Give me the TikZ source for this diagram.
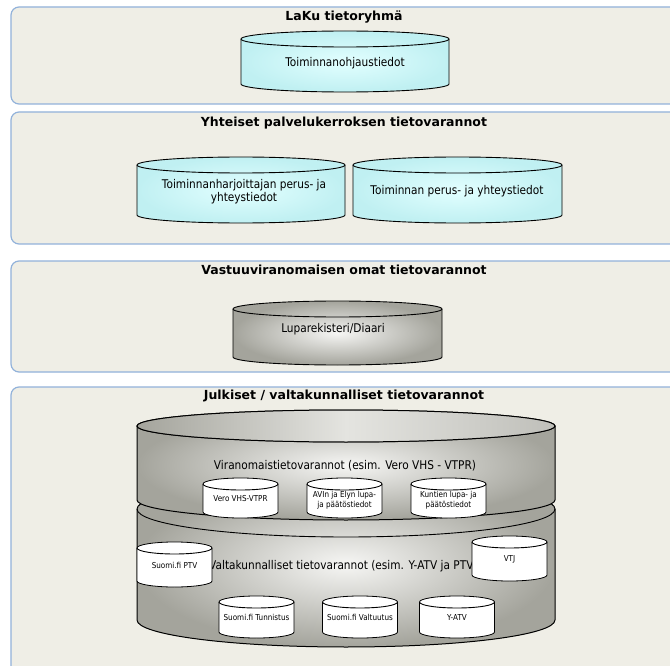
\documentclass[tikz,border=0pt]{standalone}
\usepackage{fontspec}
\setmainfont{DejaVu Sans}
\newfontfamily\lblfont{DejaVu Sans}[FakeStretch=0.88]
\definecolor{panelfill}{RGB}{239,238,230}
\definecolor{panelline}{RGB}{146,178,218}
\definecolor{cyanout}{RGB}{192,240,242}
\definecolor{cyanin}{RGB}{226,255,255}
\definecolor{greyout}{RGB}{164,164,156}
\definecolor{greyin}{RGB}{246,246,244}
\definecolor{greytop}{RGB}{228,228,224}
\tikzset{
 panel/.style={fill=panelfill, draw=panelline, line width=1.2pt, rounded corners=8pt},
 ptitle/.style={font=\bfseries\fontsize{12.5}{14}\selectfont, inner sep=0pt, anchor=base},
 lbl/.style={font=\lblfont\fontsize{12}{13}\selectfont, inner sep=0pt, align=center},
 slbl/.style={font=\lblfont\fontsize{8.2}{10}\selectfont, inner sep=0pt, align=center},
 cyancyl/.style={draw=black, line width=0.9pt, inner color=cyanin, outer color=cyanout},
 greycyl/.style={draw=black, line width=0.9pt, inner color=greyin, outer color=greyout},
 bigcyl/.style={draw=black, line width=1pt, inner color=greyin, outer color=greyout},
 topface/.style={draw=black, line width=1pt, left color=greyout, right color=greyout!70!white, middle color=greytop},
 whitecyl/.style={draw=black, line width=0.8pt, fill=white},
 cylline/.style={draw=black, line width=0.9pt},
}
% #1 cx, #2 top y, #3 bottom y, #4 rx, #5 ry top, #6 ry bottom, #7 style
\newcommand\dbcyl[7]{%
 \path[#7] ({#1-#4},#2) -- ({#1-#4},#3)
   arc[start angle=180,end angle=360,x radius=#4pt,y radius=#6pt]
   -- ({#1+#4},#2)
   arc[start angle=0,end angle=180,x radius=#4pt,y radius=#5pt] -- cycle;
 \draw[cylline] ({#1-#4},#2) arc[start angle=180,end angle=360,x radius=#4pt,y radius=#5pt];
}
\begin{document}
\begin{tikzpicture}[x=1pt,y=-1pt]
\clip (0,0) rectangle (670,666);
\fill[white] (0,0) rectangle (670,666);
% panels
\draw[panel] (11,7) rectangle (700,104);
\draw[panel] (11,112) rectangle (700,244);
\draw[panel] (11,261) rectangle (700,372);
\draw[panel] (11,387) rectangle (700,700);
% titles
\node[ptitle] (t1) at (344,20.5) {LaKu tietoryhmä};
\node[ptitle] (t2) at (344,126.5) {Yhteiset palvelukerroksen tietovarannot};
\node[ptitle] (t3) at (344,274.5) {Vastuuviranomaisen omat tietovarannot};
\node[ptitle] (t4) at (344,399.5) {Julkiset / valtakunnalliset tietovarannot};
% panel 1
\dbcyl{345}{39}{84}{104}{8}{8}{cyancyl}
\node[lbl, anchor=base] (toh) at (345,67) {Toiminnanohjaustiedot};
% panel 2
\dbcyl{241}{165}{215}{104}{8}{8}{cyancyl}
\node[lbl, anchor=center] (tharj) at (244,192) {Toiminnanharjoittajan perus- ja\\yhteystiedot};
\dbcyl{457.5}{165}{215}{104.5}{8}{8}{cyancyl}
\node[lbl, anchor=base] (tper) at (457,195) {Toiminnan perus- ja yhteystiedot};
% panel 3
\dbcyl{337.5}{309}{357}{104.5}{8}{8}{greycyl}
\node[lbl, anchor=base] (lupa) at (333,332) {Luparekisteri/Diaari};
% panel 4 big stacked cylinder
\dbcyl{346}{509}{620}{209}{28}{27}{bigcyl}
\dbcyl{346}{426}{500}{209}{16}{20}{bigcyl}
\path[topface] (346,426) ellipse [x radius=209pt, y radius=16pt];
\node[lbl, anchor=base] (vira) at (345,469) {Viranomaistietovarannot (esim. Vero VHS - VTPR)};
\node[lbl, anchor=base west] (valta) at (209,569) {Valtakunnalliset tietovarannot (esim. Y-ATV ja PTV};
% small cylinders row 1
\dbcyl{240.5}{484}{512}{37.5}{6}{6}{whitecyl}
\node[slbl, anchor=base] (vero) at (240.5,501) {Vero VHS-VTPR};
\dbcyl{344.5}{484}{512}{37.5}{6}{6}{whitecyl}
\node[slbl, anchor=center] (avi) at (344.5,500) {AVIn ja Elyn lupa-\\ja päätöstiedot};
\dbcyl{448.5}{484}{512}{37.5}{6}{6}{whitecyl}
\node[slbl, anchor=center] (kunt) at (448.5,500) {Kuntien lupa- ja\\päätöstiedot};
% PTV and VTJ
\dbcyl{174.5}{548}{581}{37.5}{6}{6}{whitecyl}
\node[slbl, anchor=base] (ptv) at (174.5,568) {Suomi.fi PTV};
\dbcyl{509.5}{542}{575}{37.5}{6}{6}{whitecyl}
\node[slbl, anchor=base] (vtj) at (509.5,561) {VTJ};
% bottom row
\dbcyl{256.5}{602}{632}{37.5}{6}{6}{whitecyl}
\node[slbl, anchor=base] (tunn) at (256.5,620) {Suomi.fi Tunnistus};
\dbcyl{360}{602}{632}{37.5}{6}{6}{whitecyl}
\node[slbl, anchor=base] (valt) at (360,620) {Suomi.fi Valtuutus};
\dbcyl{457}{602}{632}{37.5}{6}{6}{whitecyl}
\node[slbl, anchor=base] (yatv) at (457,620) {Y-ATV};
\end{tikzpicture}
\end{document}
